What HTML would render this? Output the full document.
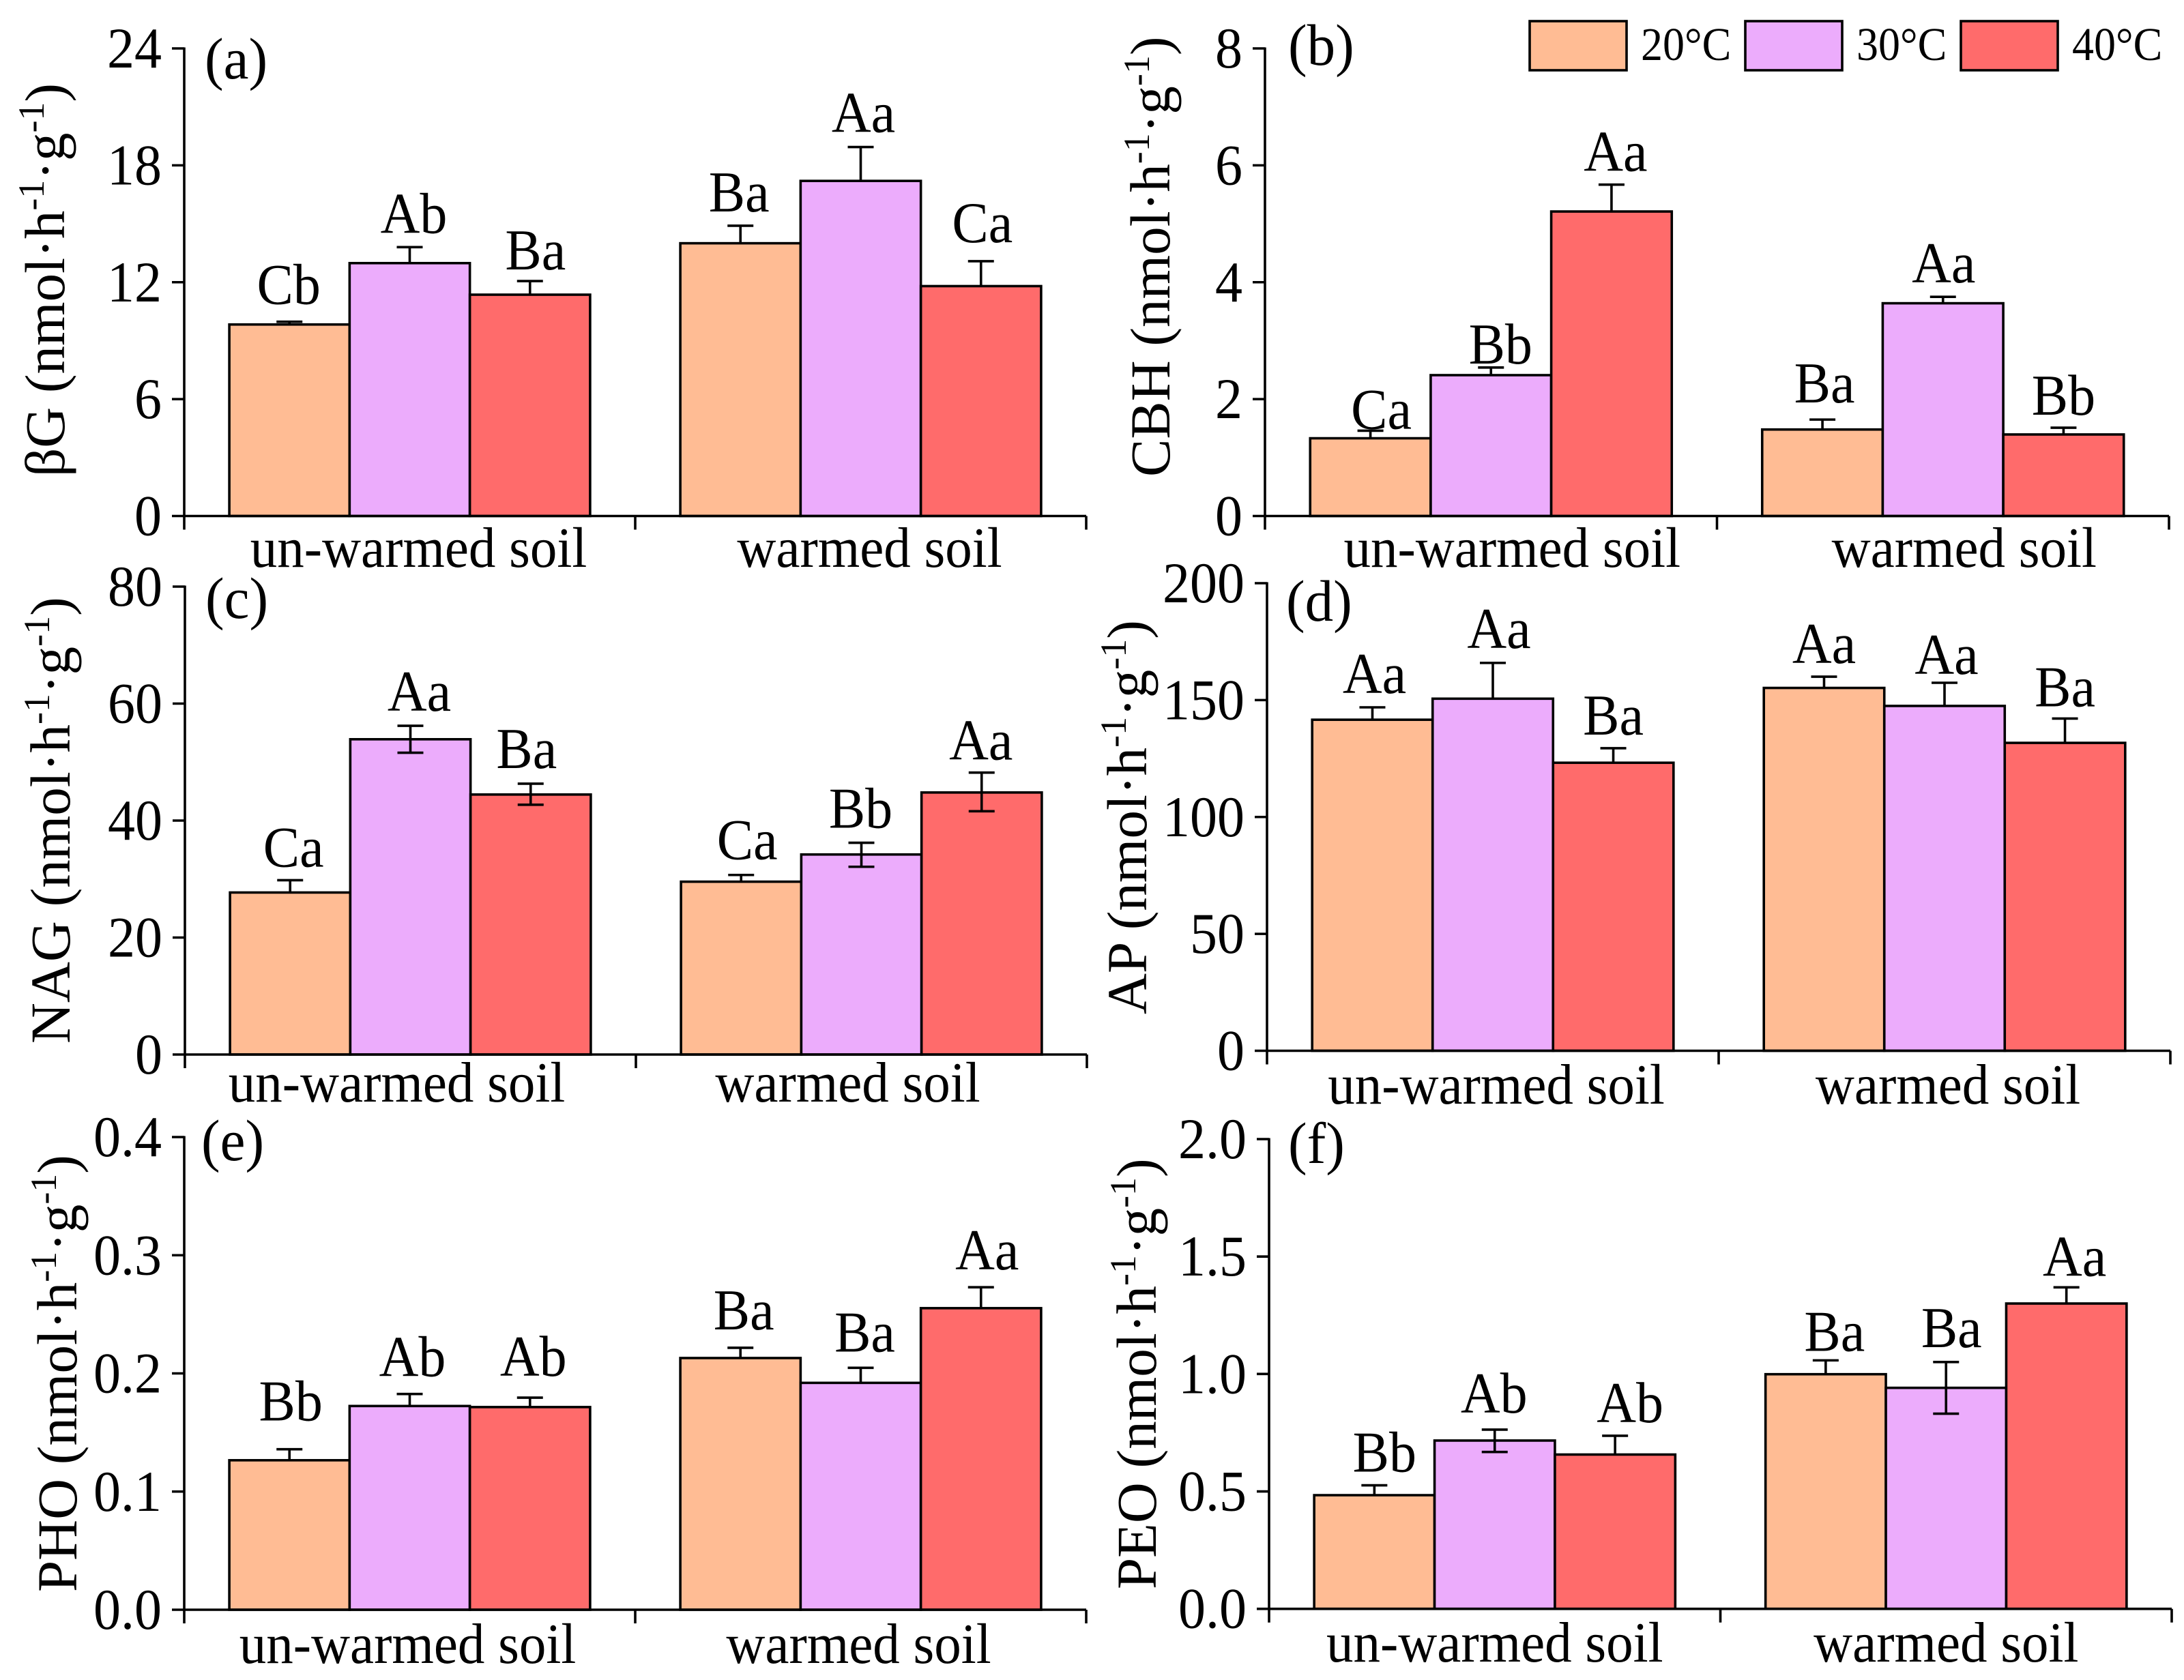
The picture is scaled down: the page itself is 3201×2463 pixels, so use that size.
<!DOCTYPE html>
<html lang="en">
<head>
<meta charset="utf-8">
<title>Soil enzyme activity by incubation temperature</title>
<style>
html,body{margin:0;padding:0;background:#fff;}
svg{display:block;}
text{font-family:"Liberation Serif","Noto Serif CJK SC",serif;fill:#000;}
</style>
</head>
<body>
<svg id="chart" xmlns="http://www.w3.org/2000/svg" width="3201" height="2463" viewBox="0 0 3201 2463">
  <rect x="0" y="0" width="3201" height="2463" fill="#ffffff"/>
  <g id="panels"></g>

  <g>
    <rect x="2242" y="31" width="142" height="72" fill="#FFBC94" stroke="#000" stroke-width="3.6"/>
    <text transform="translate(2405,88) scale(1,1.08)" font-size="64">20°C</text>
    <rect x="2558" y="31" width="142" height="72" fill="#ECACFC" stroke="#000" stroke-width="3.6"/>
    <text transform="translate(2721,88) scale(1,1.08)" font-size="64">30°C</text>
    <rect x="2874" y="31" width="142" height="72" fill="#FF6B6B" stroke="#000" stroke-width="3.6"/>
    <text transform="translate(3037,88) scale(1,1.08)" font-size="64">40°C</text>
  </g>

  <g font-size="83">
    <text transform="translate(94,699) rotate(-90)">βG (nmol·h<tspan font-size="54" dy="-30">-1</tspan><tspan dy="30">·g</tspan><tspan font-size="54" dy="-30">-1</tspan><tspan dy="30">)</tspan></text>
    <text transform="translate(1714,699) rotate(-90)">CBH (nmol·h<tspan font-size="54" dy="-30">-1</tspan><tspan dy="30">·g</tspan><tspan font-size="54" dy="-30">-1</tspan><tspan dy="30">)</tspan></text>
    <text transform="translate(102,1530) rotate(-90)">NAG (nmol·h<tspan font-size="54" dy="-30">-1</tspan><tspan dy="30">·g</tspan><tspan font-size="54" dy="-30">-1</tspan><tspan dy="30">)</tspan></text>
    <text transform="translate(1680,1487) rotate(-90)">AP (nmol·h<tspan font-size="54" dy="-30">-1</tspan><tspan dy="30">·g</tspan><tspan font-size="54" dy="-30">-1</tspan><tspan dy="30">)</tspan></text>
    <text transform="translate(112,2334) rotate(-90)">PHO (nmol·h<tspan font-size="54" dy="-30">-1</tspan><tspan dy="30">·g</tspan><tspan font-size="54" dy="-30">-1</tspan><tspan dy="30">)</tspan></text>
    <text transform="translate(1694,2330) rotate(-90)">PEO (nmol·h<tspan font-size="54" dy="-30">-1</tspan><tspan dy="30">·g</tspan><tspan font-size="54" dy="-30">-1</tspan><tspan dy="30">)</tspan></text>
  </g>

  <g font-size="83">
    <text transform="translate(300,115) scale(1,1.04)">(a)</text>
    <text transform="translate(1888,95) scale(1,1.04)">(b)</text>
    <text transform="translate(301,906) scale(1,1.04)">(c)</text>
    <text transform="translate(1885,910) scale(1,1.04)">(d)</text>
    <text transform="translate(295,1701) scale(1,1.04)">(e)</text>
    <text transform="translate(1888,1705) scale(1,1.04)">(f)</text>
  </g>
</svg>

<script>
// Shared categories and series
const categories = ['un-warmed soil', 'warmed soil'];
const seriesNames = ['20C', '30C', '40C'];

// Each mean/upper/lower array: un-warmed 20,30,40 then warmed 20,30,40
const aTicks = ['0', '6', '12', '18', '24'];
const aMeans = [9.83, 12.98, 11.36, 14.0, 17.2, 11.8];
const aUpper = [9.97, 13.8, 12.06, 14.9, 18.94, 13.08];
const aLower = [null, null, null, null, null, null];
const aLetters = ['Cb', 'Ab', 'Ba', 'Ba', 'Aa', 'Ca'];

const bTicks = ['0', '2', '4', '6', '8'];
const bMeans = [1.33, 2.41, 5.21, 1.48, 3.64, 1.395];
const bUpper = [1.46, 2.54, 5.67, 1.65, 3.75, 1.51];
const bLower = [null, null, null, null, null, null];
const bLetters = ['Ca', 'Bb', 'Aa', 'Ba', 'Aa', 'Bb'];

const cTicks = ['0', '20', '40', '60', '80'];
const cMeans = [27.7, 53.9, 44.45, 29.55, 34.2, 44.8];
const cUpper = [29.8, 56.2, 46.3, 30.7, 36.2, 48.2];
const cLower = [null, 51.6, 42.7, null, 32.1, 41.6];
const cLetters = ['Ca', 'Aa', 'Ba', 'Ca', 'Bb', 'Aa'];

const dTicks = ['0', '50', '100', '150', '200'];
const dMeans = [141.6, 150.6, 123.2, 155.2, 147.5, 131.7];
const dUpper = [146.9, 165.9, 129.4, 160, 157.4, 142.1];
const dLower = [null, null, null, null, null, null];
const dLetters = ['Aa', 'Aa', 'Ba', 'Aa', 'Aa', 'Ba'];

const eTicks = ['0.0', '0.1', '0.2', '0.3', '0.4'];
const eMeans = [0.1265, 0.1724, 0.1715, 0.213, 0.192, 0.2552];
const eUpper = [0.1358, 0.1826, 0.1795, 0.2217, 0.2047, 0.2729];
const eLower = [null, null, null, null, null, null];
const eLetters = ['Bb', 'Ab', 'Ab', 'Ba', 'Ba', 'Aa'];

const fTicks = ['0.0', '0.5', '1.0', '1.5', '2.0'];
const fMeans = [0.484, 0.7166, 0.657, 0.999, 0.941, 1.30];
const fUpper = [0.526, 0.763, 0.737, 1.058, 1.051, 1.369];
const fLower = [null, 0.668, null, null, 0.831, null];
const fLetters = ['Bb', 'Ab', 'Ab', 'Ba', 'Ba', 'Aa'];

// Layout only: frame of every panel and hand-placement nudges of the annotations
const panels = [
  {id:'a', ticks:aTicks, means:aMeans, upper:aUpper, lower:aLower, letters:aLetters,
   x0:270, x1:1592, top:71, base:756.5, catDx:13, catY:831,
   gap:[26,21,17,21,22,28], ldx:[-1,6,8,-2,4,2]},
  {id:'b', ticks:bTicks, means:bMeans, upper:bUpper, lower:bLower, letters:bLetters,
   x0:1854, x1:3179, top:71, base:756.5, catDx:31, catY:831,
   gap:[3,6,20,25,21,19], ldx:[16,14,6,3,1,0]},
  {id:'c', ticks:cTicks, means:cMeans, upper:cUpper, lower:cLower, letters:cLetters,
   x0:271, x1:1593, top:860, base:1546, catDx:-20, catY:1615,
   gap:[20,22,23,23,22,19], ldx:[5,13,-6,9,-1,-1]},
  {id:'d', ticks:dTicks, means:dMeans, upper:dUpper, lower:dLower, letters:dLetters,
   x0:1857, x1:3181, top:855, base:1540.5, catDx:5, catY:1618,
   gap:[21,22,20,20,13,18], ldx:[3,9,0,0,3,0]},
  {id:'e', ticks:eTicks, means:eMeans, upper:eUpper, lower:eLower, letters:eLetters,
   x0:270, x1:1592, top:1667, base:2360, catDx:-3, catY:2438,
   gap:[42,26,32,27,24,26], ldx:[2,4,5,5,6,9]},
  {id:'f', ticks:fTicks, means:fMeans, upper:fUpper, lower:fLower, letters:fLetters,
   x0:1860, x1:3183, top:1670, base:2358.7, catDx:0, catY:2436,
   gap:[20,25,20,14,22,17], ldx:[15,-1,22,13,8,12]}
];
const fills = ['#FFBC94', '#ECACFC', '#FF6B6B'];
const STRETCH = 1.06;

const NS = 'http://www.w3.org/2000/svg';
function make(tag, attrs, parent, txt) {
  const el = document.createElementNS(NS, tag);
  for (const k in attrs) el.setAttribute(k, attrs[k]);
  if (txt !== undefined) el.textContent = txt;
  parent.appendChild(el);
  return el;
}
function stretched(x, y) {
  return 'translate(' + x + ',' + y + ') scale(1,' + STRETCH + ')';
}
const root = document.getElementById('panels');

panels.forEach(function (p) {
  const g = make('g', {}, root);
  
  

  const yMax = parseFloat(p.ticks[p.ticks.length - 1]);
  const yScale = function (v) { return p.base - (v / yMax) * (p.base - p.top); };
  const groupW = (p.x1 - p.x0) / categories.length;
  const pad = groupW * 0.1;
  const barW = (groupW - 2 * pad) / seriesNames.length;
  const xScale = function (gi, si) { return p.x0 + gi * groupW + pad + si * barW; };

  // bars
  categories.forEach(function (cat, gi) {
    seriesNames.forEach(function (sn, si) {
      const i = gi * seriesNames.length + si;
      const bar = make('rect', {
        x: xScale(gi, si), y: yScale(p.means[i]), width: barW,
        height: p.base - yScale(p.means[i]), fill: fills[si], stroke: '#000', 'stroke-width': 3.6
      }, g);
      
      
    });
  });

  // error bars and significance letters
  categories.forEach(function (cat, gi) {
    seriesNames.forEach(function (sn, si) {
      const i = gi * seriesNames.length + si;
      const cx = xScale(gi, si) + barW / 2;
      const yU = yScale(p.upper[i]);
      const yL = p.lower[i] === null ? yScale(p.means[i]) : yScale(p.lower[i]);
      const eb = make('g', {stroke: '#000', 'stroke-width': 3.6}, g);
      
      
      make('line', {x1: cx, x2: cx, y1: yU, y2: yL}, eb);
      make('line', {x1: cx - 19, x2: cx + 19, y1: yU, y2: yU}, eb);
      if (p.lower[i] !== null) make('line', {x1: cx - 19, x2: cx + 19, y1: yL, y2: yL}, eb);

      const lab = make('text', {
        transform: stretched(cx + p.ldx[i], yU - p.gap[i]), 'text-anchor': 'middle', 'font-size': 80
      }, g, p.letters[i]);
      
      
    });
  });

  // y axis
  const yAxis = make('g', {stroke: '#000', 'stroke-width': 3.6}, g);
  
  
  make('line', {x1: p.x0, x2: p.x0, y1: p.top - 1.5, y2: p.base + 20}, yAxis);
  p.ticks.forEach(function (t) {
    const y = yScale(parseFloat(t));
    make('line', {x1: p.x0 - 18, x2: p.x0, y1: y, y2: y}, yAxis);
    const tl = make('text', {
      transform: stretched(p.x0 - 33, y + 28), 'text-anchor': 'end', 'font-size': 80, stroke: 'none'
    }, g, t);
    
    
  });

  // x axis
  const xAxis = make('g', {stroke: '#000', 'stroke-width': 3.6}, g);
  
  
  make('line', {x1: p.x0, x2: p.x1, y1: p.base, y2: p.base}, xAxis);
  for (let k = 1; k <= categories.length; k++) {
    const tx = p.x0 + k * groupW;
    make('line', {x1: tx, x2: tx, y1: p.base, y2: p.base + 20}, xAxis);
  }
  categories.forEach(function (cat, gi) {
    const cl = make('text', {
      transform: stretched(p.x0 + (gi + 0.5) * groupW + p.catDx, p.catY), 'text-anchor': 'middle', 'font-size': 79
    }, g, cat);
    
    
  });
});
</script>
</body>
</html>
